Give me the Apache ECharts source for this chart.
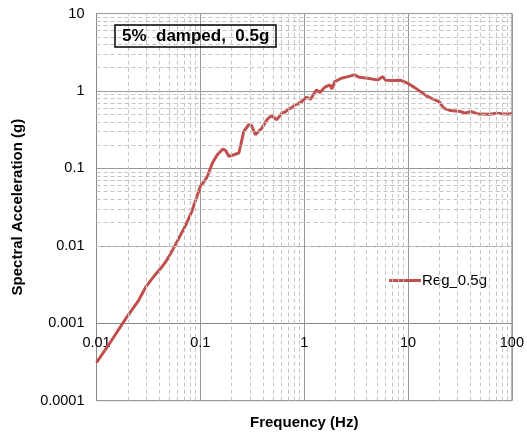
<!DOCTYPE html>
<html>
<head>
<meta charset="utf-8">
<script src="https://cdn.jsdelivr.net/npm/echarts@6/dist/echarts.min.js"></script>
<style>
  html, body { margin: 0; padding: 0; background: #fff; }
  #chart { width: 527px; height: 435px; }
</style>
</head>
<body>
<div id="chart"></div>
<script>
// frequency (Hz) and spectral acceleration (g)
const freq = [
  0.01, 0.0135, 0.0194, 0.025, 0.0301, 0.036, 0.042, 0.047, 0.0522, 0.06,
  0.0727, 0.082, 0.0906, 0.1, 0.108, 0.117, 0.1306, 0.1456, 0.165, 0.175,
  0.188, 0.21, 0.235, 0.262, 0.292, 0.31, 0.339, 0.392, 0.438, 0.482,
  0.545, 0.608, 0.65, 0.705, 0.76, 0.816, 0.87, 0.944, 1.054, 1.15,
  1.2, 1.31, 1.42, 1.58, 1.77, 1.85, 1.97, 2.28, 2.64, 3.05,
  3.4, 4.09, 4.6, 5.1, 5.7, 6.1, 7.4, 8.5, 9.9, 11.4,
  13.2, 15.3, 17.8, 19.8, 22.1, 25.6, 31.9, 35.6, 40, 47.7,
  61.7, 71.5, 85, 100
]
const accel = [
  0.00031, 0.00056, 0.00118, 0.0019, 0.0030, 0.0041, 0.0052, 0.0064, 0.0081, 0.0115,
  0.0188, 0.027, 0.0395, 0.0586, 0.067, 0.0789, 0.1175, 0.150, 0.178, 0.170,
  0.143, 0.15, 0.158, 0.30, 0.366, 0.36, 0.272, 0.332, 0.425, 0.478,
  0.425, 0.518, 0.53, 0.582, 0.61, 0.662, 0.68, 0.73, 0.83, 0.78,
  0.80, 1.03, 0.955, 1.12, 1.2, 1.06, 1.32, 1.46, 1.53, 1.61,
  1.50, 1.46, 1.42, 1.39, 1.53, 1.37, 1.36, 1.37, 1.26, 1.12,
  0.98, 0.85, 0.78, 0.73, 0.60, 0.558, 0.542, 0.517, 0.542, 0.502,
  0.50, 0.517, 0.505, 0.508
]
const seriesName = 'Reg_0.5g'
const noteText = '5%  damped,  0.5g'

// minor log gridlines (2..9 x 10^k)
function minorLines(lo, hi) {
  const out = []
  for (let e = lo; e < hi; e++) {
    for (let m = 2; m <= 9; m++) out.push(+(m * Math.pow(10, e)).toPrecision(3))
  }
  return out
}
const xMinor = minorLines(-2, 2)
const yMinor = minorLines(-4, 1)

const chart = echarts.init(document.getElementById('chart'))
const font = 'Liberation Sans, Arial, sans-serif'
const dashed = { type: [4, 3], color: '#c4c4c4', width: 1 }

const option = {
  animation: false,
  textStyle: { fontFamily: font },
  title: {
    text: noteText,
    left: 115,
    top: 25,
    borderColor: '#000',
    borderWidth: 1.5,
    padding: [3, 7, 2, 7],
    textStyle: { fontFamily: font, fontSize: 17, fontWeight: 'bold', color: '#000' }
  },
  legend: {
    data: [seriesName],
    left: 384,
    top: 268,
    icon: 'rect',
    itemWidth: 32,
    itemHeight: 3,
    itemGap: 4,
    textStyle: { fontFamily: font, fontSize: 15, color: '#000', padding: [0, 0, 0, -4] }
  },
  grid: {
    left: 96.5,
    right: 12,
    top: 13.5,
    bottom: 33.3,
    show: true,
    borderColor: '#888',
    borderWidth: 1
  },
  xAxis: {
    type: 'log',
    logBase: 10,
    min: 0.01,
    max: 100,
    offset: -77.7,
    name: 'Frequency (Hz)',
    nameLocation: 'middle',
    nameGap: 92,
    nameTextStyle: { fontFamily: font, fontSize: 15, fontWeight: 'bold', color: '#000' },
    axisLine: { lineStyle: { color: '#888' } },
    axisTick: { show: false },
    axisLabel: { fontFamily: font, fontSize: 14.5, color: '#000', margin: 12 },
    splitLine: { show: true, lineStyle: { color: '#999', width: 1 } }
  },
  yAxis: {
    type: 'log',
    logBase: 10,
    min: 0.0001,
    max: 10,
    name: 'Spectral Acceleration (g)',
    nameLocation: 'middle',
    nameGap: 71,
    nameTextStyle: { fontFamily: font, fontSize: 15, fontWeight: 'bold', color: '#000' },
    axisLine: { show: true, lineStyle: { color: '#888' } },
    axisTick: { show: false },
    axisLabel: {
      fontFamily: font, fontSize: 14.5, color: '#000', margin: 12,
      formatter: v => String(+v.toPrecision(1))
    },
    splitLine: { show: true, lineStyle: { color: '#999', width: 1 } }
  },
  series: [
    {
      name: 'minor',
      type: 'line',
      data: [],
      silent: true,
      z: 1,
      markLine: {
        silent: true,
        symbol: 'none',
        label: { show: false },
        lineStyle: dashed,
        animation: false,
        data: xMinor.map(v => ({ xAxis: v })).concat(yMinor.map(v => ({ yAxis: v })))
      }
    },
    {
      name: seriesName,
      type: 'line',
      z: 3,
      showSymbol: false,
      smooth: false,
      data: freq.map((f, i) => [f, accel[i]]),
      lineStyle: { color: '#c0504d', width: 3 },
      itemStyle: { color: '#c0504d' }
    }
  ]
}

chart.setOption(option)
</script>
</body>
</html>
